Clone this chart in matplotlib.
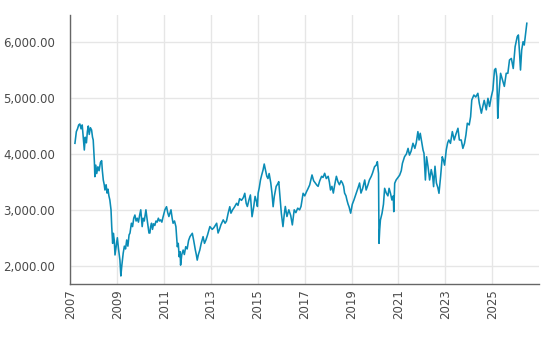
import matplotlib
matplotlib.use('Agg')
import matplotlib.pyplot as plt
from matplotlib.ticker import FuncFormatter

plt.rcParams['font.family'] = 'DejaVu Sans'
plt.rcParams['font.size'] = 8

# 读图估计的数据：时间（小数年）与指数值
years = [
    2007.19, 2007.22, 2007.25, 2007.30, 2007.35, 2007.40, 2007.45, 2007.50, 2007.55, 2007.59,
    2007.63, 2007.68, 2007.72, 2007.76, 2007.80, 2007.85, 2007.90, 2007.94, 2007.97, 2008.02,
    2008.04, 2008.08, 2008.12, 2008.17, 2008.22, 2008.28, 2008.33, 2008.36, 2008.40, 2008.44,
    2008.47, 2008.52, 2008.56, 2008.60, 2008.64, 2008.68, 2008.73, 2008.76, 2008.80, 2008.83,
    2008.87, 2008.90, 2008.95, 2009.00, 2009.05, 2009.11, 2009.15, 2009.19, 2009.25, 2009.30,
    2009.35, 2009.40, 2009.45, 2009.50, 2009.54, 2009.60, 2009.65, 2009.70, 2009.75, 2009.80,
    2009.85, 2009.90, 2009.95, 2010.00, 2010.06, 2010.10, 2010.15, 2010.22, 2010.28, 2010.35,
    2010.39, 2010.42, 2010.46, 2010.50, 2010.55, 2010.60, 2010.65, 2010.70, 2010.75, 2010.80,
    2010.85, 2010.90, 2010.95, 2011.03, 2011.10, 2011.15, 2011.20, 2011.25, 2011.29, 2011.34,
    2011.38, 2011.44, 2011.50, 2011.56, 2011.60, 2011.64, 2011.68, 2011.70, 2011.75, 2011.81,
    2011.86, 2011.92, 2011.98, 2012.04, 2012.10, 2012.20, 2012.26, 2012.33, 2012.37, 2012.41,
    2012.46, 2012.52, 2012.58, 2012.66, 2012.72, 2012.78, 2012.85, 2012.95, 2013.05, 2013.12,
    2013.18, 2013.24, 2013.30, 2013.36, 2013.42, 2013.52, 2013.60, 2013.66, 2013.73, 2013.80,
    2013.85, 2013.92, 2014.00, 2014.09, 2014.15, 2014.22, 2014.30, 2014.38, 2014.44, 2014.50,
    2014.55, 2014.62, 2014.68, 2014.75, 2014.82, 2014.88, 2014.94, 2014.98, 2015.01, 2015.06,
    2015.11, 2015.16, 2015.22, 2015.27, 2015.33, 2015.38, 2015.43, 2015.48, 2015.55, 2015.60,
    2015.65, 2015.70, 2015.78, 2015.84, 2015.89, 2015.94, 2016.00, 2016.07, 2016.12, 2016.17,
    2016.24, 2016.32, 2016.40, 2016.47, 2016.55, 2016.62, 2016.70, 2016.78, 2016.84, 2016.93,
    2017.00, 2017.07, 2017.14, 2017.21, 2017.31, 2017.38, 2017.45, 2017.52, 2017.57, 2017.64,
    2017.72, 2017.78, 2017.85, 2017.92, 2018.00, 2018.05, 2018.10, 2018.16, 2018.22, 2018.28,
    2018.35, 2018.42, 2018.48, 2018.55, 2018.61, 2018.66, 2018.70, 2018.76, 2018.80, 2018.85,
    2018.89, 2018.96, 2019.03, 2019.10, 2019.20, 2019.28, 2019.34, 2019.40, 2019.47, 2019.56,
    2019.62, 2019.70, 2019.76, 2019.84, 2019.89, 2019.98, 2020.05, 2020.10, 2020.15, 2020.17,
    2020.20, 2020.23, 2020.30, 2020.36, 2020.41, 2020.48, 2020.55, 2020.60, 2020.66, 2020.72,
    2020.78, 2020.80, 2020.84, 2020.90, 2020.98, 2021.05, 2021.12, 2021.17, 2021.26, 2021.34,
    2021.41, 2021.47, 2021.54, 2021.62, 2021.70, 2021.76, 2021.83, 2021.88, 2021.93, 2022.00,
    2022.05, 2022.09, 2022.15, 2022.20, 2022.26, 2022.33, 2022.40, 2022.46, 2022.50, 2022.56,
    2022.62, 2022.68, 2022.73, 2022.80, 2022.87, 2022.92, 2022.97, 2023.04, 2023.10, 2023.15,
    2023.22, 2023.30, 2023.38, 2023.45, 2023.54, 2023.60, 2023.68, 2023.75, 2023.82, 2023.88,
    2023.94, 2024.02, 2024.08, 2024.13, 2024.22, 2024.30, 2024.39, 2024.45, 2024.54, 2024.60,
    2024.66, 2024.75, 2024.82, 2024.89, 2024.96, 2025.03, 2025.10, 2025.15, 2025.20, 2025.24,
    2025.28, 2025.36, 2025.44, 2025.52, 2025.60, 2025.67, 2025.74, 2025.82, 2025.90, 2025.98,
    2026.07, 2026.12, 2026.17, 2026.21, 2026.26, 2026.32, 2026.37, 2026.42, 2026.48,
]
values = [
    4191, 4300, 4400, 4450, 4520, 4537, 4450, 4520, 4280, 4071,
    4300, 4200, 4400, 4500, 4350, 4470, 4430, 4300, 4250, 3862,
    3593, 3800, 3650, 3770, 3700, 3850, 3880, 3700, 3534, 3450,
    3355, 3450, 3300, 3370, 3250, 3176, 3000, 2700, 2400, 2580,
    2450, 2192, 2350, 2500, 2300, 2100, 1816, 2000, 2225, 2350,
    2300, 2460, 2350, 2550, 2585, 2760, 2700, 2850, 2907, 2800,
    2850, 2780, 2900, 3000, 2700, 2850, 2800, 3000, 2800, 2585,
    2585, 2700, 2760, 2650, 2750, 2720, 2800, 2780, 2850, 2800,
    2820, 2780, 2870, 3000, 3056, 2950, 2880, 2950, 3000, 2850,
    2760, 2800, 2700, 2340, 2400, 2160, 2250, 2010, 2200, 2280,
    2200, 2340, 2300, 2450, 2520, 2580, 2450, 2280, 2200, 2100,
    2200, 2280, 2400, 2520, 2400, 2460, 2550, 2700, 2650, 2680,
    2720, 2760, 2585, 2650, 2730, 2820, 2760, 2800, 2940, 3056,
    2940, 3000, 3050, 3117, 3080, 3200, 3170, 3220, 3296, 3117,
    3060, 3180, 3266, 2877, 3050, 3240, 3150, 3060, 3296, 3400,
    3534, 3620, 3713, 3820, 3700, 3600, 3560, 3650, 3480, 3300,
    3056, 3240, 3420, 3460, 3504, 3240, 2940, 2700, 2900, 3060,
    2880, 3000, 2900, 2730, 3000, 2950, 3030, 3000, 3060, 3296,
    3250, 3320, 3380, 3445, 3624, 3520, 3480, 3440, 3420, 3520,
    3600, 3580, 3654, 3560, 3600, 3500, 3355, 3420, 3300, 3450,
    3600, 3500, 3450, 3520, 3480, 3420, 3300, 3250, 3176, 3100,
    3056, 2940, 3100, 3176, 3300, 3400, 3480, 3300, 3380, 3534,
    3355, 3450, 3534, 3600, 3654, 3772, 3800, 3862, 3650, 2400,
    2650, 2818, 2940, 3100, 3385, 3300, 3250, 3385, 3296, 3176,
    3250, 2967, 3475, 3534, 3580, 3620, 3700, 3833, 3951, 4000,
    4100, 3980, 4050, 4191, 4100, 4200, 4400, 4250, 4370, 4200,
    4070, 4012, 3534, 3950, 3780, 3534, 3720, 3600, 3415, 3780,
    3480, 3400, 3296, 3600, 3950, 3890, 3800, 4071, 4200, 4250,
    4190, 4400, 4250, 4350, 4460, 4250, 4250, 4100, 4191, 4340,
    4550, 4520, 4667, 4966, 5055, 5020, 5086, 4910, 4730, 4850,
    4960, 4790, 4996, 4850, 5020, 5145, 5503, 5530, 5380, 4640,
    5020, 5444, 5325, 5210, 5444, 5444, 5682, 5710, 5530, 5920,
    6100, 6130, 5800, 5503, 5860, 6010, 5950, 6130, 6340,
]
year_ticks = [2007, 2009, 2011, 2013, 2015, 2017, 2019, 2021, 2023, 2025]
value_ticks = [2000, 3000, 4000, 5000, 6000]

fig = plt.figure(figsize=(5.49, 3.39), dpi=100)
ax = fig.add_axes([0.1284, 0.1622, 0.8534, 0.7936])

ax.plot(years, values, color='#0a8cb6', lw=1.15)

ax.set_xlim(2007, 2027)
ax.set_ylim(1672, 6488)
ax.set_xticks(year_ticks)
ax.set_xticklabels([str(y) for y in year_ticks], rotation=90)
ax.set_yticks(value_ticks)
ax.yaxis.set_major_formatter(FuncFormatter(lambda v, p: f'{v:,.2f}'))

ax.grid(True, color='#e6e6e6', lw=1)
ax.set_axisbelow(True)
for s in ['top', 'right']:
    ax.spines[s].set_visible(False)
for s in ['left', 'bottom']:
    ax.spines[s].set_color('#666666')
    ax.spines[s].set_linewidth(1)
ax.tick_params(axis='y', length=0, pad=11, colors='#4a4a4a', labelsize=8.5)
ax.tick_params(axis='x', length=0, pad=4, colors='#4a4a4a', labelsize=8.5)

fig.savefig('out.png', dpi=100)
